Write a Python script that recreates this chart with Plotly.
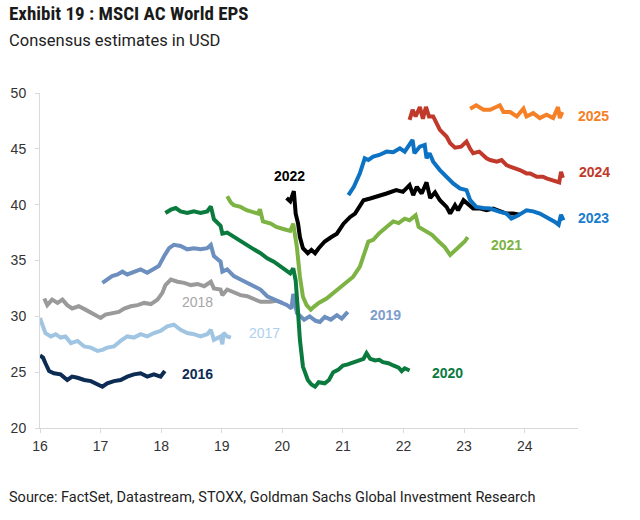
import plotly.graph_objects as go

# ---------------- data (x = year, e.g. 16.5 = mid-2016; y = EPS in USD) ----------------
x2016 = [16.0,16.05,16.09,16.15,16.23,16.34,16.45,16.53,16.62,16.73,16.84,16.95,17.03,17.11,17.22,17.33,17.44,17.55,17.66,17.77,17.88,17.99,18.06]
y2016 = [26.5,26.3,25.8,25.1,24.9,24.8,24.3,24.6,24.5,24.3,24.2,23.9,23.7,24.0,24.2,24.3,24.6,24.8,24.9,24.6,24.8,24.6,25.1]

x2017 = [16.0,16.04,16.09,16.18,16.26,16.34,16.42,16.51,16.62,16.73,16.84,16.95,17.03,17.11,17.22,17.33,17.44,17.55,17.66,17.77,17.88,17.99,18.1,18.21,18.32,18.43,18.54,18.65,18.76,18.82,18.87,18.98,19.01,19.03,19.09,19.15]
y2017 = [29.85,29.25,28.5,28.2,28.4,28.1,28.2,27.6,27.8,27.3,27.2,26.9,27.0,27.2,27.3,27.8,28.2,28.1,28.4,28.2,28.5,28.7,29.1,29.25,28.8,28.5,28.4,28.2,28.4,28.8,27.9,28.2,27.5,28.5,28.2,28.1]

x2018 = [16.07,16.12,16.2,16.29,16.37,16.45,16.53,16.64,16.75,16.86,16.95,17.0,17.08,17.19,17.3,17.39,17.5,17.61,17.72,17.83,17.94,18.02,18.07,18.16,18.27,18.38,18.49,18.6,18.71,18.82,18.87,18.98,19.01,19.09,19.2,19.31,19.42,19.53,19.64,19.8,19.9,20.0]
y2018 = [31.6,31.0,31.5,31.2,31.5,31.0,30.7,30.9,30.6,30.3,30.0,29.85,30.15,30.3,30.4,30.7,30.9,31.0,31.2,31.1,31.5,32.1,32.8,33.3,33.1,33.0,32.8,32.9,32.7,33.1,32.5,32.4,31.9,32.4,32.1,31.9,31.8,31.5,31.3,31.3,31.4,31.2]

x2019 = [17.03,17.11,17.19,17.28,17.36,17.44,17.55,17.66,17.77,17.88,17.96,18.05,18.13,18.21,18.32,18.43,18.54,18.65,18.76,18.82,18.87,18.98,19.01,19.09,19.2,19.31,19.42,19.53,19.64,19.75,19.86,19.97,20.08,20.15,20.18,20.24,20.3,20.36,20.45,20.55,20.62,20.7,20.8,20.9,20.98,21.08]
y2019 = [33.0,33.3,33.6,33.75,34.0,33.75,34.0,34.2,33.9,34.2,34.5,35.4,36.1,36.4,36.3,36.0,36.1,36.0,36.1,36.4,35.4,34.9,34.0,34.2,33.6,33.3,33.0,32.7,32.4,31.8,31.5,31.2,31.0,30.7,32.0,30.3,30.0,29.7,30.0,29.6,29.5,29.95,29.7,30.1,29.8,30.4]

x2020 = [18.07,18.16,18.24,18.32,18.43,18.54,18.65,18.76,18.82,18.87,18.98,19.01,19.09,19.2,19.31,19.42,19.53,19.64,19.75,19.86,19.97,20.08,20.13,20.18,20.22,20.26,20.29,20.34,20.42,20.48,20.54,20.6,20.7,20.77,20.84,20.92,21.0,21.08,21.17,21.28,21.34,21.39,21.45,21.53,21.6,21.66,21.75,21.83,21.92,21.97,22.02,22.1]
y2020 = [39.25,39.55,39.7,39.4,39.25,39.4,39.25,39.4,39.85,38.7,38.1,37.4,37.5,37.1,36.8,36.4,36.0,35.65,35.2,34.9,34.5,34.1,33.85,34.3,33.2,30.3,27.9,25.5,24.3,23.9,23.7,24.1,24.0,24.3,25.0,25.2,25.6,25.7,25.9,26.05,26.2,26.7,26.2,26.05,26.1,25.9,25.8,25.6,25.4,25.1,25.35,25.15]

x2021 = [19.09,19.15,19.2,19.31,19.41,19.53,19.6,19.63,19.68,19.81,19.9,20.03,20.13,20.18,20.24,20.29,20.34,20.4,20.47,20.52,20.6,20.73,20.84,20.95,21.06,21.17,21.28,21.36,21.42,21.5,21.6,21.72,21.83,21.92,22.02,22.1,22.2,22.25,22.36,22.47,22.58,22.68,22.77,22.85,22.93,23.01,23.06]
y2021 = [40.75,40.2,39.95,39.8,39.5,39.35,39.2,39.6,38.5,38.3,38.0,37.8,37.65,38.3,36.2,33.55,31.75,31.0,30.6,30.85,31.2,31.6,32.1,32.5,33.0,33.55,34.45,35.65,36.7,36.85,37.45,38.0,38.5,38.35,38.75,38.6,39.05,38.0,37.6,37.3,36.7,36.2,35.5,35.9,36.25,36.7,37.1]

x2022 = [20.07,20.13,20.19,20.22,20.26,20.29,20.34,20.42,20.48,20.54,20.6,20.7,20.81,20.9,21.01,21.12,21.2,21.28,21.34,21.45,21.6,21.72,21.88,21.99,22.1,22.16,22.22,22.3,22.38,22.44,22.52,22.6,22.71,22.77,22.85,22.9,22.99,23.05,23.15,23.27,23.37,23.48,23.59,23.7,23.81,23.92]
y2022 = [40.6,40.3,41.2,39.2,38.3,37.1,36.1,35.65,35.95,35.65,36.1,36.7,37.1,37.4,38.3,38.9,39.2,39.95,40.4,40.55,40.85,41.0,41.3,41.15,41.75,40.85,41.6,41.0,42.0,40.6,41.1,40.4,39.8,39.2,39.95,39.5,40.4,40.1,39.65,39.65,39.5,39.65,39.4,39.2,39.2,39.1]

x2023 = [21.09,21.18,21.28,21.36,21.42,21.5,21.6,21.72,21.83,21.94,22.02,22.1,22.15,22.18,22.27,22.35,22.38,22.43,22.49,22.6,22.71,22.82,22.93,23.04,23.1,23.2,23.32,23.43,23.59,23.7,23.78,23.88,24.03,24.14,24.25,24.35,24.42,24.5,24.56,24.6,24.64]
y2023 = [40.85,41.6,42.8,44.15,44.0,44.3,44.45,44.75,44.7,45.05,44.75,45.35,45.8,44.6,45.2,45.35,44.15,44.6,43.85,43.1,42.5,41.9,41.45,41.3,40.4,39.8,39.7,39.65,39.35,39.2,38.75,39.0,39.5,39.4,39.2,38.9,38.75,38.45,38.2,39.1,38.6]

x2024 = [22.1,22.15,22.2,22.27,22.32,22.37,22.42,22.49,22.6,22.71,22.77,22.85,22.95,23.04,23.1,23.15,23.25,23.37,23.43,23.54,23.62,23.7,23.76,23.87,23.92,24.03,24.09,24.2,24.3,24.36,24.47,24.53,24.57,24.6,24.63]
y2024 = [47.6,48.5,47.9,48.75,47.7,48.75,47.9,47.9,46.7,46.1,45.5,45.1,45.2,45.65,45.0,44.6,44.75,44.15,44.0,43.85,44.0,43.55,43.4,43.25,43.1,42.8,42.8,42.5,42.5,42.35,42.2,42.05,42.0,42.95,42.4]

x2025 = [23.1,23.2,23.32,23.43,23.59,23.65,23.76,23.87,23.98,24.03,24.14,24.25,24.36,24.47,24.55,24.58,24.62]
y2025 = [48.6,48.9,48.5,48.5,48.9,48.3,48.3,47.9,48.6,47.9,48.2,47.75,48.05,47.75,48.75,47.75,48.3]

series_names = ["2016", "2017", "2018", "2019", "2020", "2021", "2022", "2023", "2024", "2025"]
series_x = [x2016, x2017, x2018, x2019, x2020, x2021, x2022, x2023, x2024, x2025]
series_y = [y2016, y2017, y2018, y2019, y2020, y2021, y2022, y2023, y2024, y2025]
colors = ["#0d2c54", "#9fc5e3", "#9a9a9a", "#6d8fbf", "#0a7a3e",
          "#7cb342", "#000000", "#0b72c4", "#c0392b", "#f58025"]
label_colors = ["#0d2c54", "#acd0ee", "#a6a6a6", "#7d9dcb", "#0a7a3e",
                "#7cb342", "#000000", "#1a7ccc", "#c0392b", "#f58025"]
label_bold = [True, False, False, True, True, True, True, True, True, True]

# label anchor (left edge) positions in data units
label_x = [18.31, 19.42, 18.31, 21.41, 22.44, 23.41, 19.83, 24.85, 24.87, 24.85]
label_y = [24.8, 28.5, 31.3, 30.1, 24.9, 36.4, 42.55, 38.8, 42.9, 47.9]

x_ticks = [16, 17, 18, 19, 20, 21, 22, 23, 24]
y_ticks = [20, 25, 30, 35, 40, 45, 50]

title_text = "<b>Exhibit 19 : MSCI AC World EPS</b>"
subtitle_text = "Consensus estimates in USD"
source_text = "Source: FactSet, Datastream, STOXX, Goldman Sachs Global Investment Research"

# ---------------- layout geometry ----------------
W, H = 640, 520
L, R, T, B = 40, 62, 93, 92


def px_to_paper_x(px):
    return (px - L) / (W - L - R)


def py_to_paper_y(py):
    return (H - B - py) / (H - T - B)


# ---------------- figure ----------------
fig = go.Figure()
draw_order = [0, 1, 2, 3, 4, 5, 6, 8, 9, 7]
for i in draw_order:
    fig.add_trace(go.Scatter(
        x=series_x[i], y=series_y[i], mode="lines", name=series_names[i],
        line=dict(color=colors[i], width=4), showlegend=False, hoverinfo="skip"))

for i, name in enumerate(series_names):
    txt = "<b>" + name + "</b>" if label_bold[i] else name
    fig.add_annotation(x=label_x[i], y=label_y[i], xref="x", yref="y",
                       text=txt, showarrow=False,
                       xanchor="left", yanchor="middle",
                       font=dict(family="Liberation Sans, Arial", size=14, color=label_colors[i]))

fig.add_annotation(x=px_to_paper_x(7), y=py_to_paper_y(14), xref="paper", yref="paper",
                   text=title_text, showarrow=False, xanchor="left", yanchor="middle",
                   font=dict(family="Liberation Sans Narrow, Roboto Condensed, Roboto", size=19, color="#1a1a1a"))
fig.add_annotation(x=px_to_paper_x(7), y=py_to_paper_y(40), xref="paper", yref="paper",
                   text=subtitle_text, showarrow=False, xanchor="left", yanchor="middle",
                   font=dict(family="Roboto", size=16.5, color="#222222"))
fig.add_annotation(x=px_to_paper_x(7), y=py_to_paper_y(497), xref="paper", yref="paper",
                   text=source_text, showarrow=False, xanchor="left", yanchor="middle",
                   font=dict(family="Roboto", size=14.5, color="#222222"))

fig.update_layout(
    width=W, height=H,
    margin=dict(l=L, r=R, t=T, b=B),
    paper_bgcolor="white", plot_bgcolor="white",
    xaxis=dict(range=[16, 24.88], tickvals=x_ticks, ticktext=[str(v) for v in x_ticks],
               showgrid=False, zeroline=False, showline=True, linecolor="#d9d9d9", linewidth=1,
               ticks="outside", ticklen=4, tickcolor="#d9d9d9", ticklabelstandoff=1,
               tickfont=dict(family="Liberation Sans, Arial", size=14, color="#333333")),
    yaxis=dict(range=[20, 50], tickvals=y_ticks, ticktext=[str(v) for v in y_ticks],
               showgrid=False, zeroline=False, showline=True, linecolor="#d9d9d9", linewidth=1,
               ticks="outside", ticklen=4, tickcolor="#d9d9d9", ticklabelstandoff=6,
               tickfont=dict(family="Liberation Sans, Arial", size=14, color="#333333")),
)

fig.write_html("out.html")
